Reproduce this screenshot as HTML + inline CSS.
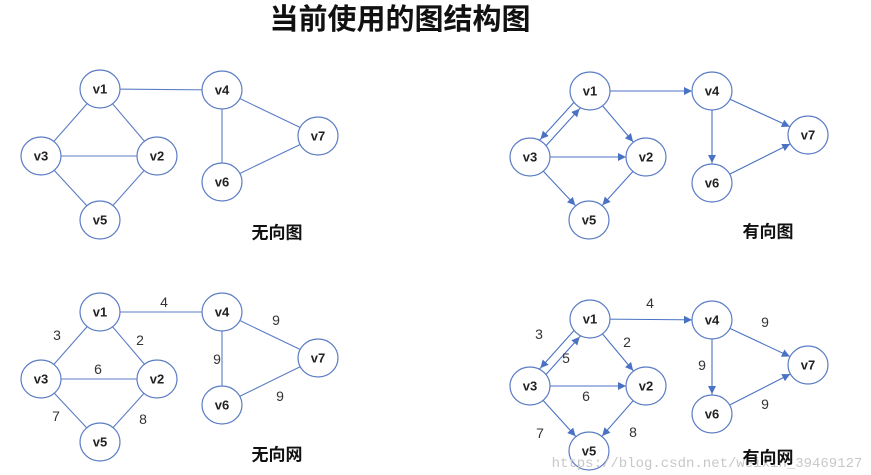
<!DOCTYPE html>
<html><head><meta charset="utf-8"><style>
html,body{margin:0;padding:0;background:#fff;}
svg{display:block;}
.n{fill:#fff;stroke:#5b7cc4;stroke-width:1.2;}
.e{stroke:#5b7cc4;stroke-width:1.1;fill:none;}
.a{stroke:#4a72c4;stroke-width:1.1;fill:none;marker-end:url(#ar);}
.t{font-family:"Liberation Sans",sans-serif;font-weight:bold;font-size:13px;fill:#222;text-anchor:middle;dominant-baseline:central;}
.w{font-family:"Liberation Sans",sans-serif;font-size:14px;fill:#333;text-anchor:middle;dominant-baseline:central;}
.c{font-family:"Liberation Sans","Noto Sans CJK SC",sans-serif;font-weight:bold;font-size:17px;fill:#111;text-anchor:middle;dominant-baseline:central;}
</style></head><body>
<svg width="871" height="475" viewBox="0 0 871 475" xmlns="http://www.w3.org/2000/svg">
<defs>
<marker id="ar" markerUnits="userSpaceOnUse" markerWidth="30" markerHeight="10" refX="28" refY="4" orient="auto">
<path d="M0,0 L8,4 L0,8 Z" fill="#4a72c4"/>
</marker>
</defs>
<text x="400" y="20" style="font-family:'Liberation Sans','Noto Sans CJK SC',sans-serif;font-weight:bold;font-size:29px;fill:#111;text-anchor:middle;dominant-baseline:central;">当前使用的图结构图</text>

<g>
<line class="e" x1="100" y1="89" x2="222" y2="90"/>
<line class="e" x1="100" y1="89" x2="41" y2="156"/>
<line class="e" x1="100" y1="89" x2="157" y2="156"/>
<line class="e" x1="41" y1="156" x2="157" y2="156"/>
<line class="e" x1="41" y1="156" x2="100" y2="220"/>
<line class="e" x1="157" y1="156" x2="100" y2="220"/>
<line class="e" x1="222" y1="90" x2="222" y2="182"/>
<line class="e" x1="222" y1="90" x2="318" y2="136"/>
<line class="e" x1="222" y1="182" x2="318" y2="136"/>
<ellipse class="n" cx="100" cy="89" rx="20" ry="19"/><text class="t" x="100" y="89">v1</text>
<ellipse class="n" cx="222" cy="90" rx="20" ry="19"/><text class="t" x="222" y="90">v4</text>
<ellipse class="n" cx="41" cy="156" rx="20" ry="19"/><text class="t" x="41" y="156">v3</text>
<ellipse class="n" cx="157" cy="156" rx="20" ry="19"/><text class="t" x="157" y="156">v2</text>
<ellipse class="n" cx="100" cy="220" rx="20" ry="19"/><text class="t" x="100" y="220">v5</text>
<ellipse class="n" cx="222" cy="182" rx="20" ry="19"/><text class="t" x="222" y="182">v6</text>
<ellipse class="n" cx="318" cy="136" rx="20" ry="19"/><text class="t" x="318" y="136">v7</text>
<text class="c" x="277" y="233">无向图</text>
</g>

<g>
<line class="a" x1="587" y1="88" x2="527" y2="154"/>
<line class="a" x1="533" y1="160" x2="593" y2="94"/>
<line class="a" x1="590" y1="91" x2="646" y2="157"/>
<line class="a" x1="590" y1="91" x2="712" y2="91"/>
<line class="a" x1="530" y1="157" x2="646" y2="157"/>
<line class="a" x1="530" y1="157" x2="589" y2="220"/>
<line class="a" x1="646" y1="157" x2="589" y2="220"/>
<line class="a" x1="712" y1="91" x2="712" y2="183"/>
<line class="a" x1="712" y1="91" x2="808" y2="135"/>
<line class="a" x1="712" y1="183" x2="808" y2="135"/>
<ellipse class="n" cx="590" cy="91" rx="20" ry="19"/><text class="t" x="590" y="91">v1</text>
<ellipse class="n" cx="712" cy="91" rx="20" ry="19"/><text class="t" x="712" y="91">v4</text>
<ellipse class="n" cx="530" cy="157" rx="20" ry="19"/><text class="t" x="530" y="157">v3</text>
<ellipse class="n" cx="646" cy="157" rx="20" ry="19"/><text class="t" x="646" y="157">v2</text>
<ellipse class="n" cx="589" cy="220" rx="20" ry="19"/><text class="t" x="589" y="220">v5</text>
<ellipse class="n" cx="712" cy="183" rx="20" ry="19"/><text class="t" x="712" y="183">v6</text>
<ellipse class="n" cx="808" cy="135" rx="20" ry="19"/><text class="t" x="808" y="135">v7</text>
<text class="c" x="768" y="232">有向图</text>
</g>

<g>
<line class="e" x1="100" y1="312" x2="222" y2="312"/>
<line class="e" x1="100" y1="312" x2="41" y2="379"/>
<line class="e" x1="100" y1="312" x2="157" y2="379"/>
<line class="e" x1="41" y1="379" x2="157" y2="379"/>
<line class="e" x1="41" y1="379" x2="100" y2="442"/>
<line class="e" x1="157" y1="379" x2="100" y2="442"/>
<line class="e" x1="222" y1="312" x2="222" y2="405"/>
<line class="e" x1="222" y1="312" x2="318" y2="358"/>
<line class="e" x1="222" y1="405" x2="318" y2="358"/>
<ellipse class="n" cx="100" cy="312" rx="20" ry="19"/><text class="t" x="100" y="312">v1</text>
<ellipse class="n" cx="222" cy="312" rx="20" ry="19"/><text class="t" x="222" y="312">v4</text>
<ellipse class="n" cx="41" cy="379" rx="20" ry="19"/><text class="t" x="41" y="379">v3</text>
<ellipse class="n" cx="157" cy="379" rx="20" ry="19"/><text class="t" x="157" y="379">v2</text>
<ellipse class="n" cx="100" cy="442" rx="20" ry="19"/><text class="t" x="100" y="442">v5</text>
<ellipse class="n" cx="222" cy="405" rx="20" ry="19"/><text class="t" x="222" y="405">v6</text>
<ellipse class="n" cx="318" cy="358" rx="20" ry="19"/><text class="t" x="318" y="358">v7</text>
<text class="w" x="164" y="302">4</text>
<text class="w" x="57" y="335">3</text>
<text class="w" x="140" y="340">2</text>
<text class="w" x="98" y="369">6</text>
<text class="w" x="276" y="320">9</text>
<text class="w" x="217" y="359">9</text>
<text class="w" x="280" y="396">9</text>
<text class="w" x="56" y="416">7</text>
<text class="w" x="143" y="419">8</text>
<text class="c" x="277" y="455">无向网</text>
</g>

<g>
<line class="a" x1="587" y1="316" x2="527" y2="383"/>
<line class="a" x1="533" y1="389" x2="593" y2="322"/>
<line class="a" x1="590" y1="319" x2="646" y2="386"/>
<line class="a" x1="590" y1="319" x2="712" y2="320"/>
<line class="a" x1="530" y1="386" x2="646" y2="386"/>
<line class="a" x1="530" y1="386" x2="589" y2="451"/>
<line class="a" x1="646" y1="386" x2="589" y2="451"/>
<line class="a" x1="712" y1="320" x2="712" y2="414"/>
<line class="a" x1="712" y1="320" x2="808" y2="365"/>
<line class="a" x1="712" y1="414" x2="808" y2="365"/>
<ellipse class="n" cx="590" cy="319" rx="20" ry="19"/><text class="t" x="590" y="319">v1</text>
<ellipse class="n" cx="712" cy="320" rx="20" ry="19"/><text class="t" x="712" y="320">v4</text>
<ellipse class="n" cx="530" cy="386" rx="20" ry="19"/><text class="t" x="530" y="386">v3</text>
<ellipse class="n" cx="646" cy="386" rx="20" ry="19"/><text class="t" x="646" y="386">v2</text>
<ellipse class="n" cx="589" cy="451" rx="20" ry="19"/><text class="t" x="589" y="451">v5</text>
<ellipse class="n" cx="712" cy="414" rx="20" ry="19"/><text class="t" x="712" y="414">v6</text>
<ellipse class="n" cx="808" cy="365" rx="20" ry="19"/><text class="t" x="808" y="365">v7</text>
<text class="w" x="650" y="303">4</text>
<text class="w" x="539" y="334">3</text>
<text class="w" x="566" y="358">5</text>
<text class="w" x="627" y="342">2</text>
<text class="w" x="765" y="322">9</text>
<text class="w" x="702" y="365">9</text>
<text class="w" x="586" y="396">6</text>
<text class="w" x="765" y="404">9</text>
<text class="w" x="540" y="433">7</text>
<text class="w" x="633" y="432">8</text>
<text x="707" y="464" style="font-family:'Liberation Mono',monospace;font-size:14px;fill:#c8c8c8;text-anchor:middle;dominant-baseline:central;">https://blog.csdn.net/weixin_39469127</text>
<text class="c" x="768" y="458">有向网</text>
</g>
</svg>
</body></html>
